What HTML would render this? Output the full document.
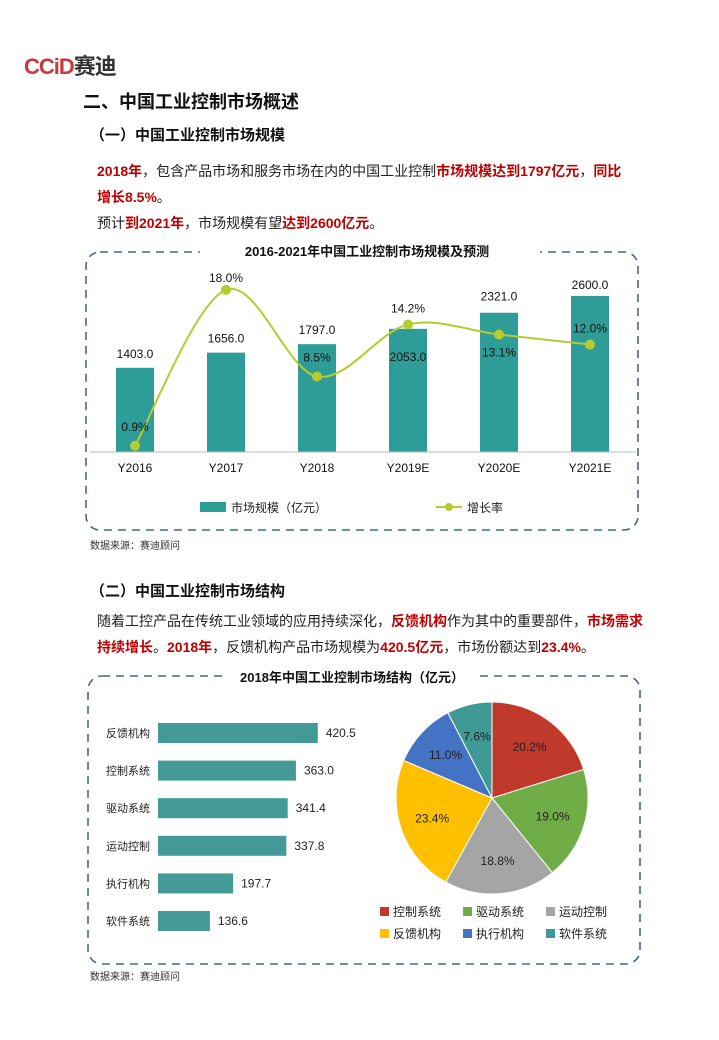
<!DOCTYPE html>
<html><head><meta charset="utf-8"><style>
body{margin:0;width:719px;height:1040px;background:#fff;font-family:"Liberation Sans","Noto Sans CJK SC",sans-serif;position:relative;overflow:hidden}
.a{position:absolute;white-space:nowrap}
.r{color:#c00000;font-weight:bold}
svg text{font-family:"Liberation Sans","Noto Sans CJK SC",sans-serif}
</style></head><body>
<div class="a" style="left:24px;top:49px;font-size:22px;font-weight:bold;letter-spacing:-1px"><span style="color:#c8383c">CCiD</span><span style="color:#333">赛迪</span></div>
<div class="a" style="left:83px;top:88px;font-size:18px;font-weight:bold;color:#111">二、中国工业控制市场概述</div>
<div class="a" style="left:90px;top:124px;font-size:15px;font-weight:bold;color:#111">（一）中国工业控制市场规模</div>
<div class="a" style="left:97px;top:158px;font-size:14px;line-height:26px;color:#222"><span class="r">2018年</span>，包含产品市场和服务市场在内的中国工业控制<span class="r">市场规模达到1797亿元</span>，<span class="r">同比</span><br><span class="r">增长8.5%</span>。<br>预计<span class="r">到2021年</span>，市场规模有望<span class="r">达到2600亿元</span>。</div>

<svg class="a" style="left:0;top:0" width="719" height="1040">
<rect x="86" y="252" width="552" height="278" rx="14" fill="none" stroke="#44678f" stroke-width="1.6" stroke-dasharray="8,6"/>
<rect x="200" y="240" width="340" height="22" fill="#fff"/>
<text x="367" y="256" font-size="13" font-weight="bold" text-anchor="middle" fill="#111">2016-2021年中国工业控制市场规模及预测</text>
<g id="c1"></g>
<line x1="90" y1="452" x2="636" y2="452" stroke="#bbb"/>
<rect x="200" y="502" width="26" height="10" fill="#2e9c97"/>
<text x="231" y="512" font-size="12" fill="#222">市场规模（亿元）</text>
<line x1="436" y1="507" x2="462" y2="507" stroke="#b5cc2f" stroke-width="2"/><circle cx="449" cy="507" r="4" fill="#b5cc2f"/>
<text x="467" y="512" font-size="12" fill="#222">增长率</text>

<rect x="88" y="676" width="552" height="288" rx="14" fill="none" stroke="#44678f" stroke-width="1.6" stroke-dasharray="8,6"/>
<rect x="228" y="666" width="250" height="22" fill="#fff"/>
<text x="352" y="682" font-size="13" font-weight="bold" text-anchor="middle" fill="#111">2018年中国工业控制市场结构（亿元）</text>
<g id="c2"></g><g id="c3"></g>
</svg>

<div class="a" style="left:90px;top:537px;font-size:10px;color:#333">数据来源：赛迪顾问</div>
<div class="a" style="left:90px;top:580px;font-size:15px;font-weight:bold;color:#111">（二）中国工业控制市场结构</div>
<div class="a" style="left:97px;top:608px;font-size:14px;line-height:26px;color:#222;white-space:normal;width:550px">随着工控产品在传统工业领域的应用持续深化，<span class="r">反馈机构</span>作为其中的重要部件，<span class="r">市场需求持续增长</span>。<span class="r">2018年</span>，反馈机构产品市场规模为<span class="r">420.5亿元</span>，市场份额达到<span class="r">23.4%</span>。</div>
<div class="a" style="left:90px;top:968px;font-size:10px;color:#333">数据来源：赛迪顾问</div>

<script>
const years=["Y2016","Y2017","Y2018","Y2019E","Y2020E","Y2021E"];
const sizes=[1403.0,1656.0,1797.0,2053.0,2321.0,2600.0];
const growth=[0.9,18.0,8.5,14.2,13.1,12.0];
const hCats=["反馈机构","控制系统","驱动系统","运动控制","执行机构","软件系统"];
const hVals=[420.5,363.0,341.4,337.8,197.7,136.6];
const pieCats=["控制系统","驱动系统","运动控制","反馈机构","执行机构","软件系统"];
const pieVals=[20.2,19.0,18.8,23.4,11.0,7.6];
const pieColors=["#c0392b","#70ad47","#a5a5a5","#ffc000","#4472c4","#3f9a96"];
const barLabelOff=[-10,-10,-10,32,-12,-7];
const growthLabelOff=[-15,-8,-15,-12,22,-12];
const NS="http://www.w3.org/2000/svg";
function mk(p,t,a){const e=document.createElementNS(NS,t);for(const k in a)e.setAttribute(k,a[k]);p.appendChild(e);return e;}
const c1=document.getElementById('c1');
const xS=i=>135+i*91, yS=v=>452-v*0.06, gS=v=>454-v*9.12;
years.forEach((y,i)=>{
 const b=mk(c1,'rect',{x:xS(i)-19,y:yS(sizes[i]),width:38,height:452-yS(sizes[i]),fill:'#2e9c97'});
 
 
 const t=mk(c1,'text',{x:xS(i),y:yS(sizes[i])+barLabelOff[i],'font-size':12,'text-anchor':'middle',fill:'#111'});t.textContent=sizes[i].toFixed(1);
 
 
 const l=mk(c1,'text',{x:xS(i),y:472,'font-size':12,'text-anchor':'middle',fill:'#111'});l.textContent=y;
 
 
});
const pts=growth.map((g,i)=>[xS(i),gS(g)]);
let d='M'+pts[0];
for(let i=0;i<pts.length-1;i++){const p0=pts[Math.max(0,i-1)],p1=pts[i],p2=pts[i+1],p3=pts[Math.min(pts.length-1,i+2)];
 d+=` C${p1[0]+(p2[0]-p0[0])/6},${p1[1]+(p2[1]-p0[1])/6} ${p2[0]-(p3[0]-p1[0])/6},${p2[1]-(p3[1]-p1[1])/6} ${p2[0]},${p2[1]}`;}
const ln=mk(c1,'path',{d:d,fill:'none',stroke:'#b5cc2f','stroke-width':2});


pts.forEach((p,i)=>{const c=mk(c1,'circle',{cx:p[0],cy:p[1],r:5,fill:'#b5cc2f'});
 
 
 const t=mk(c1,'text',{x:p[0],y:p[1]+growthLabelOff[i],'font-size':12,'text-anchor':'middle',fill:'#111'});
 t.textContent=growth[i].toFixed(1)+'%';
 
 });
const c2=document.getElementById('c2');
hCats.forEach((c,i)=>{const y=733+i*37.6;
 const b=mk(c2,'rect',{x:158,y:y-10,width:hVals[i]*0.38,height:20,fill:'#449a97'});
 
 
 const l=mk(c2,'text',{x:150,y:y+4,'font-size':11,'text-anchor':'end',fill:'#222'});l.textContent=c;
 
 
 const v=mk(c2,'text',{x:158+hVals[i]*0.38+8,y:y+4,'font-size':12,fill:'#222'});v.textContent=hVals[i].toFixed(1);
 
 });
const c3=document.getElementById('c3');
const cx=492,cy=798,R=96;const tot=pieVals.reduce((a,b)=>a+b,0);let a0=-Math.PI/2;
pieVals.forEach((v,i)=>{const a1=a0+v/tot*2*Math.PI;
 const x0=cx+R*Math.cos(a0),y0=cy+R*Math.sin(a0),x1=cx+R*Math.cos(a1),y1=cy+R*Math.sin(a1);
 const s=mk(c3,'path',{d:`M${cx},${cy}L${x0},${y0}A${R},${R} 0 ${a1-a0>Math.PI?1:0} 1 ${x1},${y1}Z`,fill:pieColors[i],stroke:'#fff','stroke-width':1});
 
 
 const m=(a0+a1)/2;const t=mk(c3,'text',{x:cx+R*0.66*Math.cos(m),y:cy+R*0.66*Math.sin(m)+4,'font-size':12,'text-anchor':'middle',fill:'#222'});
 t.textContent=v.toFixed(1)+'%';
 
 
 const lx=380+(i%3)*83,ly=916+Math.floor(i/3)*22;
 const sw=mk(c3,'rect',{x:lx,y:ly-9,width:9,height:9,fill:pieColors[i]});
 
 
 const lt=mk(c3,'text',{x:lx+13,y:ly,'font-size':12,fill:'#222'});lt.textContent=pieCats[i];
 
 
 a0=a1;});
</script>
</body></html>
